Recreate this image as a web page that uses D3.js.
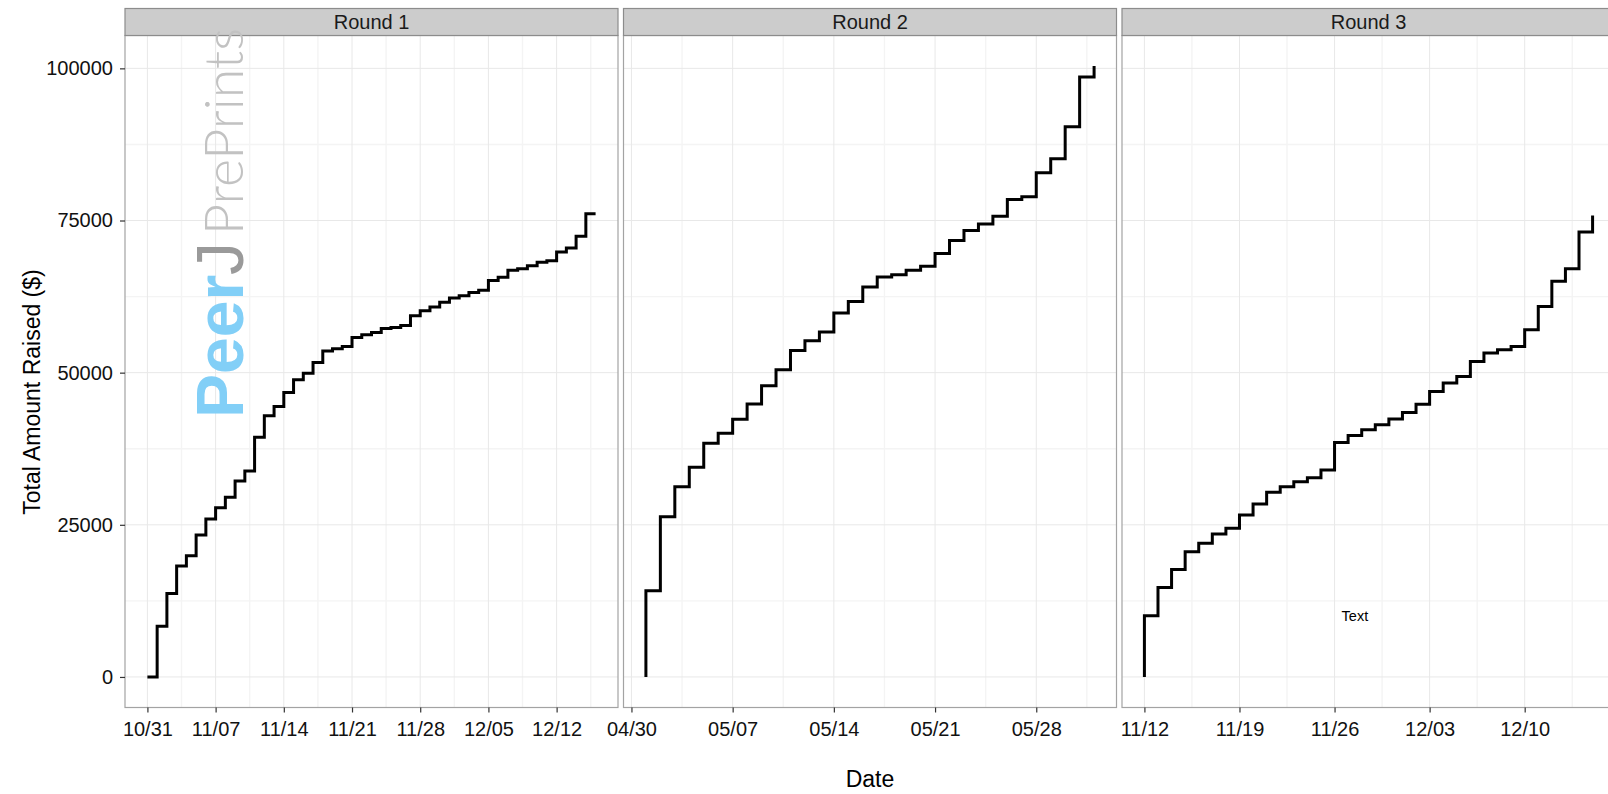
<!DOCTYPE html>
<html>
<head>
<meta charset="utf-8">
<script src="https://cdn.jsdelivr.net/npm/d3@7"></script>
<style>
  body { margin: 0; background: #fff; }
  svg { display: block; font-family: "Liberation Sans", Arial, Helvetica, sans-serif; }
</style>
</head>
<body>
<div id="chart"></div>
<script>
// Round names (facet strips)
const rounds = ["Round 1", "Round 2", "Round 3"];

// Round 1 - cumulative amount per day
const round1Dates = ["2012-10-31", "2012-11-01", "2012-11-02", "2012-11-03", "2012-11-04", "2012-11-05",
    "2012-11-06", "2012-11-07", "2012-11-08", "2012-11-09", "2012-11-10", "2012-11-11", "2012-11-12",
    "2012-11-13", "2012-11-14", "2012-11-15", "2012-11-16", "2012-11-17", "2012-11-18", "2012-11-19",
    "2012-11-20", "2012-11-21", "2012-11-22", "2012-11-23", "2012-11-24", "2012-11-25", "2012-11-26",
    "2012-11-27", "2012-11-28", "2012-11-29", "2012-11-30", "2012-12-01", "2012-12-02", "2012-12-03",
    "2012-12-04", "2012-12-05", "2012-12-06", "2012-12-07", "2012-12-08", "2012-12-09", "2012-12-10",
    "2012-12-11", "2012-12-12", "2012-12-13", "2012-12-14", "2012-12-15", "2012-12-16"];
const round1Values = [0, 8340, 13720, 18220, 19910, 23320, 25950, 27810, 29520, 32200, 33850, 39390, 42900,
    44430, 46730, 48820, 49920, 51670, 53550, 53920, 54300, 55790, 56230, 56610, 57270, 57430, 57760,
    59350, 60180, 60790, 61550, 62270, 62650, 63190, 63520, 65160, 65660, 66810, 67090, 67580, 68130,
    68400, 69840, 70500, 72410, 76090, 76090];

// Round 2
const round2Dates = ["2013-05-01", "2013-05-01", "2013-05-02", "2013-05-03", "2013-05-04", "2013-05-05",
    "2013-05-06", "2013-05-07", "2013-05-08", "2013-05-09", "2013-05-10", "2013-05-11", "2013-05-12",
    "2013-05-13", "2013-05-14", "2013-05-15", "2013-05-16", "2013-05-17", "2013-05-18", "2013-05-19",
    "2013-05-20", "2013-05-21", "2013-05-22", "2013-05-23", "2013-05-24", "2013-05-25", "2013-05-26",
    "2013-05-27", "2013-05-28", "2013-05-29", "2013-05-30", "2013-05-31", "2013-06-01"];
const round2Values = [0, 14150, 26330, 31270, 34450, 38400, 40050, 42350, 44870, 47840, 50470, 53650,
    55240, 56700, 59800, 61710, 64080, 65720, 66100, 66810, 67470, 69560, 71700, 73340, 74440, 75690,
    78440, 78890, 82840, 85140, 90410, 98570, 100380];

// Round 3
const round3Dates = ["2013-11-12", "2013-11-12", "2013-11-13", "2013-11-14", "2013-11-15", "2013-11-16",
    "2013-11-17", "2013-11-18", "2013-11-19", "2013-11-20", "2013-11-21", "2013-11-22", "2013-11-23",
    "2013-11-24", "2013-11-25", "2013-11-26", "2013-11-27", "2013-11-28", "2013-11-29", "2013-11-30",
    "2013-12-01", "2013-12-02", "2013-12-03", "2013-12-04", "2013-12-05", "2013-12-06", "2013-12-07",
    "2013-12-08", "2013-12-09", "2013-12-10", "2013-12-11", "2013-12-12", "2013-12-13", "2013-12-14",
    "2013-12-15"];
const round3Values = [0, 10040, 14710, 17670, 20570, 21950, 23480, 24420, 26610, 28420, 30340, 31270,
    32090, 32750, 34010, 38510, 39660, 40600, 41450, 42380, 43450, 44820, 46900, 48280, 49370, 51840,
    53220, 53760, 54300, 57050, 60890, 65000, 67090, 73130, 75810];

// Axis ticks
const yTicks = [0, 25000, 50000, 75000, 100000];
const round1Ticks = ["2012-10-31", "2012-11-07", "2012-11-14", "2012-11-21", "2012-11-28", "2012-12-05", "2012-12-12"];
const round2Ticks = ["2013-04-30", "2013-05-07", "2013-05-14", "2013-05-21", "2013-05-28"];
const round3Ticks = ["2013-11-12", "2013-11-19", "2013-11-26", "2013-12-03", "2013-12-10"];

// Annotation in round 3
const noteLabel = "Text";
const noteDate = "2013-11-27T12:00";
const noteValue = 10000;

const parseDay = d3.timeParse("%Y-%m-%d");
const parseNote = d3.timeParse("%Y-%m-%dT%H:%M");

const panels = [
    { dates: round1Dates, values: round1Values, ticks: round1Ticks },
    { dates: round2Dates, values: round2Values, ticks: round2Ticks },
    { dates: round3Dates, values: round3Values, ticks: round3Ticks }
].map((p, i) => ({
    name: rounds[i],
    data: p.dates.map((d, j) => ({ x: parseDay(d), y: p.values[j] })),
    ticks: p.ticks.map(parseDay)
}));

// Layout
const W = 1608, H = 794;
const panelLeft = 125, panelW = 493, panelGap = 5.5;
const stripTop = 8.5, stripH = 27;
const plotTop = stripTop + stripH, plotBottom = 707.5;

const svg = d3.select("#chart").append("svg")
    .attr("width", W)
    .attr("height", H);

svg.append("rect").attr("width", W).attr("height", H).attr("fill", "#fff");

// shared y scale, 5% expansion like ggplot
const allValues = round1Values.concat(round2Values, round3Values);
const yExt = d3.extent(allValues);
const yPad = (yExt[1] - yExt[0]) * 0.05;
const yScale = d3.scaleLinear()
    .domain([yExt[0] - yPad, yExt[1] + yPad])
    .range([plotBottom, plotTop]);

const yMinor = [-12500, 12500, 37500, 62500, 87500, 112500]
    .filter(v => v > yScale.domain()[0] && v < yScale.domain()[1]);

const fmt = d3.timeFormat("%m/%d");

panels.forEach((p, i) => {
    const x0 = panelLeft + i * (panelW + panelGap);
    const xExt = d3.extent(p.data, d => d.x);
    const xPad = (xExt[1] - xExt[0]) * 0.05;
    const xScale = d3.scaleTime()
        .domain([new Date(+xExt[0] - xPad), new Date(+xExt[1] + xPad)])
        .range([x0, x0 + panelW]);

    const g = svg.append("g");

    // minor grid
    const halfWeek = 3.5 * 864e5;
    const xMinor = [];
    p.ticks.forEach(t => { xMinor.push(new Date(+t - halfWeek)); });
    xMinor.push(new Date(+p.ticks[p.ticks.length - 1] + halfWeek));
    const dom = xScale.domain();
    const xMinorIn = xMinor.filter(t => t > dom[0] && t < dom[1]);

    g.selectAll(".ymin").data(yMinor).join("line")
        .attr("x1", x0).attr("x2", x0 + panelW)
        .attr("y1", d => yScale(d)).attr("y2", d => yScale(d))
        .attr("stroke", "#f4f4f4").attr("stroke-width", 1.4);
    g.selectAll(".xmin").data(xMinorIn).join("line")
        .attr("x1", d => xScale(d)).attr("x2", d => xScale(d))
        .attr("y1", plotTop).attr("y2", plotBottom)
        .attr("stroke", "#f4f4f4").attr("stroke-width", 1.4);

    // major grid
    g.selectAll(".ymaj").data(yTicks).join("line")
        .attr("x1", x0).attr("x2", x0 + panelW)
        .attr("y1", d => yScale(d)).attr("y2", d => yScale(d))
        .attr("stroke", "#e8e8e8").attr("stroke-width", 1);
    g.selectAll(".xmaj").data(p.ticks).join("line")
        .attr("x1", d => xScale(d)).attr("x2", d => xScale(d))
        .attr("y1", plotTop).attr("y2", plotBottom)
        .attr("stroke", "#e8e8e8").attr("stroke-width", 1);

    // watermark sits in the first panel
    if (i === 0) {
        const wm = svg.append("text")
            .attr("transform", "translate(243,418) rotate(-90)");
        wm.append("tspan")
            .attr("font-weight", "bold").attr("font-size", 66)
            .attr("fill", "#82cff7").text("Peer");
        wm.append("tspan")
            .attr("font-size", 66).attr("fill", "#9a9a9a").text("J");
        wm.append("tspan")
            .attr("dx", 7)
            .attr("font-family", "Lato, 'Liberation Sans', sans-serif")
            .attr("font-weight", 300).attr("font-size", 54)
            .attr("textLength", 207).attr("lengthAdjust", "spacingAndGlyphs")
            .attr("fill", "#c2c2c2").text("PrePrints");
    }

    // step line
    const line = d3.line()
        .curve(d3.curveStepAfter)
        .x(d => xScale(d.x))
        .y(d => yScale(d.y));
    g.append("path")
        .datum(p.data)
        .attr("d", line)
        .attr("fill", "none")
        .attr("stroke", "#000")
        .attr("stroke-width", 3)
        .attr("stroke-linejoin", "miter");

    if (i === 2) {
        g.append("text")
            .attr("x", xScale(parseNote(noteDate)))
            .attr("y", yScale(noteValue))
            .attr("dy", "0.35em")
            .attr("text-anchor", "middle")
            .attr("font-size", 14.5)
            .attr("fill", "#000")
            .text(noteLabel);
    }

    // panel border
    g.append("rect")
        .attr("x", x0).attr("y", plotTop)
        .attr("width", panelW).attr("height", plotBottom - plotTop)
        .attr("fill", "none").attr("stroke", "#a3a3a3").attr("stroke-width", 1.2);

    // strip
    g.append("rect")
        .attr("x", x0).attr("y", stripTop)
        .attr("width", panelW).attr("height", stripH)
        .attr("fill", "#cccccc").attr("stroke", "#8c8c8c").attr("stroke-width", 1.2);
    g.append("text")
        .attr("x", x0 + panelW / 2).attr("y", stripTop + stripH / 2)
        .attr("dy", "0.36em")
        .attr("text-anchor", "middle")
        .attr("font-size", 20)
        .attr("fill", "#1a1a1a")
        .text(p.name);

    // x axis
    const xAxis = g.append("g")
        .attr("transform", `translate(0,${plotBottom})`)
        .call(d3.axisBottom(xScale).tickValues(p.ticks).tickFormat(fmt).tickSize(5).tickPadding(9));
    xAxis.select(".domain").remove();
    xAxis.selectAll(".tick line").attr("stroke", "#333").attr("stroke-width", 1.2);
    xAxis.selectAll(".tick text").attr("font-size", 20).attr("fill", "#111")
        .attr("font-family", "'Liberation Sans', Arial, sans-serif");
});

// y axis on the first panel
const yAxis = svg.append("g")
    .attr("transform", `translate(${panelLeft},0)`)
    .call(d3.axisLeft(yScale).tickValues(yTicks).tickFormat(d3.format("d")).tickSize(5).tickPadding(7));
yAxis.select(".domain").remove();
yAxis.selectAll(".tick line").attr("stroke", "#333").attr("stroke-width", 1.2);
yAxis.selectAll(".tick text").attr("font-size", 20).attr("fill", "#111")
    .attr("font-family", "'Liberation Sans', Arial, sans-serif");

// axis titles
svg.append("text")
    .attr("x", panelLeft + (3 * panelW + 2 * panelGap) / 2)
    .attr("y", 787)
    .attr("text-anchor", "middle")
    .attr("font-size", 23)
    .attr("fill", "#000")
    .text("Date");

svg.append("text")
    .attr("transform", "translate(40,392) rotate(-90)")
    .attr("text-anchor", "middle")
    .attr("font-size", 23)
    .attr("fill", "#000")
    .text("Total Amount Raised ($)");
</script>
</body>
</html>
